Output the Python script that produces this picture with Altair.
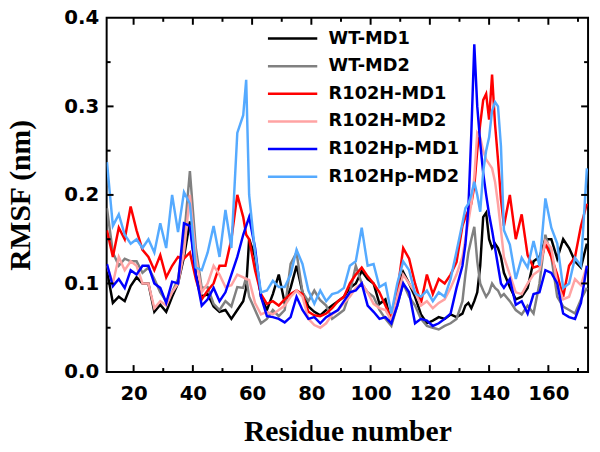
import altair as alt
import pandas as pd

residues = [11, 13, 15, 17, 19, 21, 23, 25, 27, 29, 31, 33, 35, 37, 39, 41, 43, 45, 47, 49, 51, 53, 55, 57,
            58,
            59, 61, 63, 65, 67, 69, 71, 73, 75, 77, 79, 81, 83, 85, 87, 89, 91, 93, 95, 97, 99, 101, 103, 105,
            107, 109, 111, 113, 115, 117, 119, 121, 123, 125, 127, 129, 131,
            132, 133, 134, 135, 136, 137, 138, 139, 140, 141, 142, 143, 144, 145,
            147, 149, 151, 153, 155, 157, 159, 161, 163, 165, 167, 169, 171, 173]

wt_md1 = [0.115, 0.078, 0.085, 0.080, 0.097, 0.107, 0.100, 0.100, 0.068, 0.076, 0.068, 0.085, 0.100, 0.130, 0.170, 0.110, 0.085, 0.088, 0.074, 0.068, 0.070, 0.060, 0.070, 0.080,
          0.095,
          0.150, 0.130, 0.085, 0.070, 0.088, 0.110, 0.078, 0.095, 0.120, 0.090, 0.074, 0.068, 0.064, 0.070, 0.075, 0.080, 0.085, 0.095, 0.100, 0.114, 0.105, 0.100, 0.077, 0.082,
          0.055, 0.090, 0.113, 0.100, 0.085, 0.065, 0.055, 0.058, 0.062, 0.060, 0.065, 0.062, 0.066,
          0.075, 0.078, 0.072, 0.080, 0.090, 0.120, 0.175, 0.180, 0.150, 0.140, 0.145, 0.140, 0.130, 0.112,
          0.096, 0.082, 0.085, 0.095, 0.125, 0.130, 0.150, 0.150, 0.128, 0.150, 0.140, 0.125, 0.118, 0.145]

wt_md2 = [0.185, 0.135, 0.120, 0.128, 0.125, 0.125, 0.112, 0.118, 0.105, 0.090, 0.080, 0.090, 0.105, 0.150, 0.227, 0.140, 0.095, 0.096, 0.077, 0.070, 0.080, 0.074, 0.096, 0.095,
          0.107,
          0.085, 0.070, 0.055, 0.060, 0.070, 0.063, 0.070, 0.122, 0.135, 0.090, 0.080, 0.092, 0.081, 0.075, 0.060, 0.065, 0.070, 0.090, 0.120, 0.100, 0.090, 0.085, 0.070, 0.060,
          0.052, 0.075, 0.100, 0.085, 0.075, 0.060, 0.052, 0.050, 0.048, 0.052, 0.055, 0.060, 0.080,
          0.110, 0.135, 0.150, 0.164, 0.125, 0.100, 0.092, 0.085, 0.090, 0.100, 0.095, 0.092, 0.085, 0.088,
          0.080, 0.070, 0.065, 0.075, 0.066, 0.100, 0.155, 0.130, 0.085, 0.074, 0.070, 0.066, 0.082, 0.095]

r102h_md1 = [0.160, 0.130, 0.163, 0.150, 0.187, 0.160, 0.138, 0.130, 0.115, 0.132, 0.107, 0.120, 0.130, 0.128, 0.135, 0.105, 0.082, 0.092, 0.100, 0.120, 0.120, 0.150, 0.200, 0.175,
             0.155,
             0.150, 0.115, 0.088, 0.077, 0.080, 0.075, 0.082, 0.088, 0.092, 0.088, 0.068, 0.064, 0.063, 0.066, 0.072, 0.080, 0.085, 0.100, 0.110, 0.118, 0.108, 0.100, 0.090, 0.075,
             0.060, 0.090, 0.140, 0.128, 0.100, 0.078, 0.110, 0.088, 0.105, 0.100, 0.110, 0.124, 0.165,
             0.175, 0.182, 0.190, 0.210, 0.250, 0.280, 0.307, 0.314, 0.285, 0.336, 0.280, 0.240, 0.195, 0.165,
             0.200, 0.150, 0.178, 0.132, 0.118, 0.120, 0.145, 0.130, 0.110, 0.085, 0.120, 0.130, 0.165, 0.190]

r102h_md2 = [0.120, 0.100, 0.130, 0.115, 0.125, 0.120, 0.100, 0.100, 0.072, 0.080, 0.075, 0.090, 0.100, 0.135, 0.200, 0.130, 0.090, 0.100, 0.120, 0.110, 0.096, 0.098, 0.110, 0.107,
             0.105,
             0.104, 0.078, 0.065, 0.068, 0.065, 0.070, 0.075, 0.085, 0.092, 0.085, 0.060, 0.053, 0.050, 0.055, 0.065, 0.070, 0.078, 0.085, 0.095, 0.100, 0.090, 0.077, 0.072, 0.070,
             0.058, 0.085, 0.110, 0.100, 0.090, 0.075, 0.080, 0.072, 0.078, 0.082, 0.095, 0.110, 0.130,
             0.150, 0.170, 0.190, 0.220, 0.270, 0.265, 0.250, 0.240, 0.235, 0.230, 0.215, 0.190, 0.160, 0.130,
             0.110, 0.090, 0.088, 0.100, 0.110, 0.115, 0.148, 0.140, 0.100, 0.082, 0.085, 0.105, 0.098, 0.120]

r102hp_md1 = [0.122, 0.097, 0.105, 0.095, 0.115, 0.110, 0.120, 0.120, 0.100, 0.095, 0.078, 0.102, 0.100, 0.168, 0.165, 0.110, 0.075, 0.082, 0.095, 0.080, 0.090, 0.110, 0.130, 0.155,
              0.165,
              0.175, 0.140, 0.085, 0.063, 0.062, 0.060, 0.056, 0.062, 0.085, 0.070, 0.060, 0.062, 0.055, 0.062, 0.066, 0.070, 0.080, 0.090, 0.092, 0.100, 0.075, 0.068, 0.060, 0.062,
              0.055, 0.075, 0.100, 0.090, 0.055, 0.060, 0.058, 0.052, 0.055, 0.060, 0.066, 0.095, 0.120,
              0.144, 0.185, 0.270, 0.370, 0.300, 0.259, 0.225, 0.200, 0.178, 0.160, 0.140, 0.120, 0.100, 0.095,
              0.105, 0.076, 0.080, 0.066, 0.088, 0.090, 0.115, 0.112, 0.100, 0.066, 0.062, 0.060, 0.078, 0.120]

r102hp_md2 = [0.237, 0.165, 0.178, 0.155, 0.145, 0.150, 0.140, 0.150, 0.135, 0.168, 0.140, 0.200, 0.158, 0.203, 0.190, 0.118, 0.115, 0.135, 0.165, 0.130, 0.183, 0.140, 0.270, 0.290,
              0.330,
              0.200, 0.135, 0.090, 0.092, 0.103, 0.096, 0.096, 0.110, 0.138, 0.122, 0.092, 0.077, 0.092, 0.080, 0.088, 0.090, 0.095, 0.120, 0.125, 0.163, 0.120, 0.122, 0.096, 0.100,
              0.066, 0.100, 0.125, 0.115, 0.089, 0.085, 0.092, 0.080, 0.090, 0.085, 0.105, 0.136, 0.168,
              0.185, 0.190, 0.200, 0.215, 0.200, 0.181, 0.226, 0.250, 0.265, 0.295, 0.305, 0.300, 0.255, 0.160,
              0.144, 0.105, 0.129, 0.118, 0.148, 0.120, 0.196, 0.163, 0.145, 0.095, 0.100, 0.129, 0.120, 0.230]

series_names = ["WT-MD1", "WT-MD2", "R102H-MD1", "R102H-MD2", "R102Hp-MD1", "R102Hp-MD2"]
series_colors = ["#000000", "#808080", "#ff0000", "#ffa3a3", "#0000ff", "#55aaff"]
series_values = [wt_md1, wt_md2, r102h_md1, r102h_md2, r102hp_md1, r102hp_md2]

x_ticks = [20, 40, 60, 80, 100, 120, 140, 160]
x_minor = [30, 50, 70, 90, 110, 130, 150, 170]
y_ticks = [0.0, 0.1, 0.2, 0.3, 0.4]
y_inner = [0.1, 0.2, 0.3]
y_minor = [0.05, 0.15, 0.25, 0.35]

W, H = 488, 359

rows = []
for name, vals in zip(series_names, series_values):
    assert len(vals) == len(residues), (name, len(vals))
    for r, v in zip(residues, vals):
        rows.append({"Residue": r, "RMSF": v, "Series": name})
df = pd.DataFrame(rows)

xscale = alt.Scale(domain=[10.9, 173.4], nice=False, zero=False)
yscale = alt.Scale(domain=[0, 0.4], nice=False)

lines = alt.Chart(df).mark_line(strokeWidth=2.5, clip=True).encode(
    x=alt.X("Residue:Q", scale=xscale,
            axis=alt.Axis(values=x_ticks, title="Residue number", labelPadding=12,
                          titleY=69, titleBaseline="alphabetic")),
    y=alt.Y("RMSF:Q", scale=yscale,
            axis=alt.Axis(values=y_ticks, format=".1f", title="RMSF (nm)", labelPadding=8,
                          titleX=-78, titleY=H / 2, titleBaseline="alphabetic", titleAlign="center")),
    color=alt.Color("Series:N", scale=alt.Scale(domain=series_names, range=series_colors),
                    legend=alt.Legend(orient="none", legendX=162, legendY=7, title=None,
                                      symbolType="stroke", symbolSize=2500, symbolStrokeWidth=2.5,
                                      labelFont="DejaVu Sans", labelFontWeight="bold", labelFontSize=18,
                                      labelColor="black", labelOffset=10, clipHeight=28, rowPadding=0,
                                      padding=0, labelLimit=300)),
)

def tick_layer(values, kind, length):
    if kind in ("bottom", "top"):
        d = pd.DataFrame({"Residue": values})
        base = alt.Chart(d).mark_rule(color="black", strokeWidth=2)
        if kind == "bottom":
            return base.encode(x=alt.X("Residue:Q", scale=xscale), y=alt.value(H), y2=alt.value(H - length))
        return base.encode(x=alt.X("Residue:Q", scale=xscale), y=alt.value(0), y2=alt.value(length))
    d = pd.DataFrame({"RMSF": values})
    base = alt.Chart(d).mark_rule(color="black", strokeWidth=2)
    if kind == "left":
        return base.encode(y=alt.Y("RMSF:Q", scale=yscale), x=alt.value(0), x2=alt.value(length))
    return base.encode(y=alt.Y("RMSF:Q", scale=yscale), x=alt.value(W), x2=alt.value(W - length))

ticks = [
    tick_layer(x_ticks, "bottom", 7), tick_layer(x_minor, "bottom", 4),
    tick_layer(x_ticks, "top", 7), tick_layer(x_minor, "top", 4),
    tick_layer(y_inner, "left", 7), tick_layer(y_minor, "left", 4),
    tick_layer(y_inner, "right", 7), tick_layer(y_minor, "right", 4),
]

chart = alt.layer(lines, *ticks).properties(
    width=W, height=H,
    padding={"left": 100, "top": 7, "right": 4, "bottom": 70},
    autosize=alt.AutoSizeParams(type="none"),
    background="white",
).configure_view(
    stroke="black", strokeWidth=2
).configure_axis(
    domain=False, ticks=False, tickSize=0, grid=False,
    labelFont="DejaVu Sans", labelFontWeight="bold", labelFontSize=20, labelColor="black",
    titleFont="Liberation Serif", titleFontWeight="bold", titleFontSize=30, titleColor="black",
)

chart.save("out.html", embed_options={"renderer": "svg", "actions": False})
